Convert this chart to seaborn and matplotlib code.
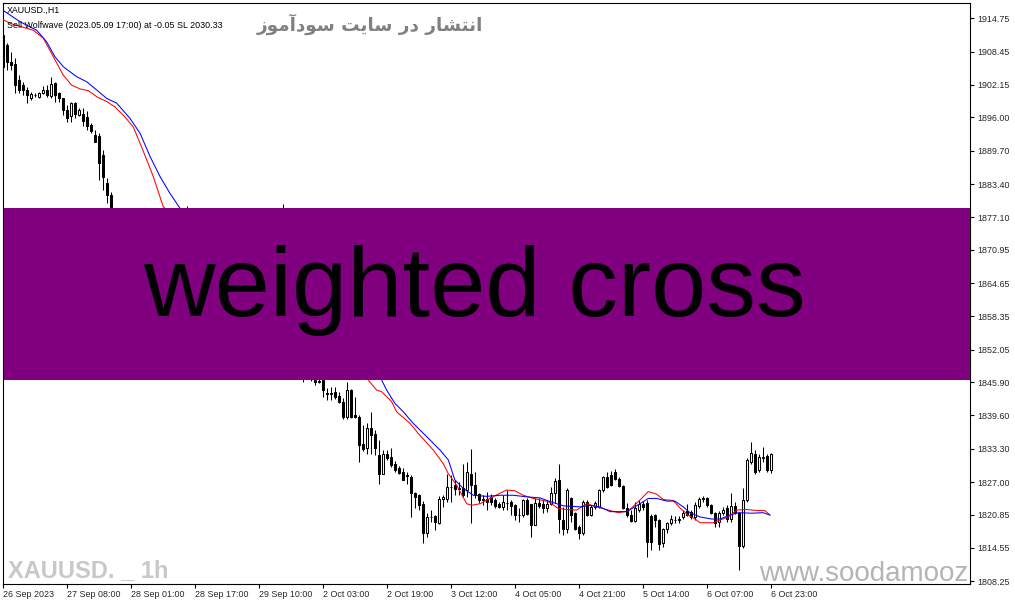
import matplotlib
matplotlib.use("Agg")
import matplotlib.pyplot as plt
from matplotlib.patches import Rectangle
import seaborn as sns
import pandas as pd

# XAUUSD H1 bars, 26 Sep 2023 .. 6 Oct 2023 23:00 (bar index = position)
opens = [1911.6, 1909.8, 1906.5, 1906.2, 1903.1, 1902.1, 1901.2, 1899.7, 1900.2, 1899.9,
         1900.6, 1901.2, 1900.0, 1902.6, 1900.6, 1899.6, 1897.4, 1896.2, 1898.7, 1896.4,
         1896.6, 1896.0, 1894.5, 1892.7, 1892.5, 1888.9, 1883.5, 1881.3, 1876, 1874,
         1871, 1868, 1869, 1867, 1864, 1865, 1866, 1862, 1863, 1866,
         1869, 1867, 1871, 1873, 1871, 1874, 1875, 1872, 1867, 1868,
         1864, 1866, 1865, 1866, 1865, 1863, 1865, 1864, 1862, 1864,
         1866, 1865, 1868, 1870, 1868, 1866, 1868, 1867, 1871, 1873,
         1876, 1866, 1858, 1852, 1849, 1850, 1847, 1848, 1846.3, 1846.0,
         1846.3, 1843.9, 1843.7, 1844.1, 1843.3, 1842.2, 1839.4, 1844.4, 1839.7, 1839.4,
         1834.2, 1833.4, 1837.2, 1836.1, 1832.1, 1828.6, 1832.4, 1831.7, 1830.5, 1829.6,
         1828.9, 1828.2, 1828.0, 1824.9, 1824.5, 1822.9, 1817.3, 1820.3, 1820.6, 1819.3,
         1823.7, 1823.7, 1826.0, 1826.4, 1825.7, 1825.8, 1825.5, 1828.6, 1826.4, 1824.7,
         1823.6, 1823.7, 1824.2, 1823.6, 1822.8, 1822.3, 1823.0, 1823.2, 1822.6, 1820.7,
         1820.75, 1823.6, 1822.9, 1818.9, 1823.1, 1822.9, 1822.0, 1822.9, 1824.9, 1827.4,
         1819.8, 1818.2, 1823.9, 1821.1, 1818.4, 1817.3, 1823.3, 1820.75, 1822.3, 1822.3,
         1825.4, 1828.0, 1828.4, 1828.9, 1827.5, 1826.2, 1822.0, 1820.75, 1819.7, 1821.7,
         1822.9, 1823.0, 1820.6, 1820.75, 1819.8, 1815.4, 1818.05, 1819.2, 1819.9, 1819.9,
         1820.3, 1821.6, 1821.4, 1820.4, 1822.5, 1823.8, 1823.9, 1822.6, 1821.2, 1819.5,
         1821.1, 1822.0, 1820.1, 1822.5, 1821.2, 1814.9, 1823.6, 1830.8, 1832.4, 1829.3,
         1831.6, 1832.0, 1829.3]
highs = [1912.5, 1910.0, 1908.4, 1907.2, 1904.0, 1902.8, 1901.8, 1900.9, 1900.7, 1900.9,
         1902.0, 1902.2, 1903.7, 1902.8, 1900.8, 1899.7, 1898.3, 1899.0, 1899.0, 1897.8,
         1897.8, 1897.3, 1894.9, 1893.6, 1893.0, 1889.8, 1884.5, 1881.8, 1878, 1876,
         1873, 1871, 1872, 1869, 1867, 1868, 1867, 1865, 1867, 1870,
         1871, 1872, 1874, 1876, 1875, 1877, 1879.2, 1874, 1870, 1870,
         1867, 1868, 1867, 1868, 1866, 1866, 1867, 1866, 1865, 1867,
         1868, 1869, 1871, 1872, 1870, 1869, 1870, 1872, 1875, 1877,
         1879.6, 1868, 1860, 1854, 1852, 1851, 1850, 1849, 1848.0, 1847.5,
         1848.0, 1844.8, 1844.9, 1845.0, 1844.1, 1842.9, 1846.0, 1844.6, 1843.1, 1839.6,
         1837.8, 1838.1, 1840.3, 1836.8, 1834.9, 1833.05, 1833.0, 1833.4, 1831.0, 1830.0,
         1829.6, 1828.9, 1828.3, 1825.2, 1824.8, 1823.5, 1821.1, 1821.7, 1820.8, 1824.3,
         1824.5, 1828.6, 1828.3, 1827.4, 1827.1, 1830.5, 1830.8, 1833.2, 1828.9, 1825.0,
         1824.5, 1825.2, 1824.7, 1823.9, 1823.3, 1824.5, 1825.5, 1823.6, 1822.9, 1822.0,
         1823.7, 1823.9, 1822.9, 1823.9, 1823.9, 1823.6, 1823.6, 1826.1, 1827.7, 1830.5,
         1822.3, 1825.9, 1824.2, 1821.3, 1818.9, 1823.6, 1823.6, 1822.6, 1823.4, 1825.6,
         1828.1, 1828.9, 1829.0, 1829.4, 1827.9, 1826.4, 1823.1, 1821.7, 1823.3, 1823.6,
         1823.5, 1823.6, 1821.0, 1821.0, 1820.0, 1818.3, 1819.5, 1820.7, 1820.5, 1820.6,
         1821.8, 1822.9, 1821.8, 1823.3, 1824.1, 1824.3, 1824.1, 1822.8, 1821.4, 1821.6,
         1822.3, 1822.6, 1824.9, 1823.2, 1821.4, 1825.8, 1831.6, 1834.6, 1833.0, 1832.3,
         1833.7, 1832.4, 1832.5]
lows = [1904.5, 1905.0, 1905.0, 1900.6, 1900.6, 1900.2, 1898.7, 1899.3, 1899.8, 1899.7,
        1900.4, 1899.9, 1899.6, 1899.0, 1899.0, 1896.4, 1895.2, 1895.2, 1895.8, 1896.2,
        1894.3, 1893.7, 1893.0, 1891.3, 1884.2, 1882.3, 1879.8, 1874.0, 1872, 1870,
        1866, 1865, 1866, 1862, 1861, 1863, 1860, 1859, 1862, 1865,
        1866, 1866, 1869, 1870, 1868, 1872, 1871, 1866, 1864, 1863,
        1862, 1864, 1863, 1864, 1862, 1862, 1863, 1861, 1860, 1863,
        1864, 1864, 1866, 1867, 1865, 1864, 1866, 1866, 1869, 1870,
        1864, 1856, 1850, 1847, 1846.5, 1846.0, 1846.5, 1846.2, 1845.4, 1845.7,
        1843.1, 1842.5, 1842.5, 1842.8, 1841.9, 1839.0, 1839.0, 1839.2, 1839.2, 1830.8,
        1832.8, 1832.4, 1832.4, 1832.1, 1826.7, 1828.5, 1831.2, 1829.9, 1828.9, 1828.5,
        1827.4, 1826.7, 1820.4, 1822.0, 1821.7, 1815.4, 1816.6, 1819.5, 1817.9, 1819.0,
        1822.3, 1823.3, 1823.3, 1824.5, 1824.5, 1824.2, 1824.2, 1819.2, 1823.9, 1823.0,
        1822.6, 1821.7, 1822.6, 1822.0, 1822.0, 1821.7, 1821.7, 1820.75, 1819.8, 1819.5,
        1820.4, 1820.75, 1816.6, 1818.9, 1822.0, 1821.1, 1821.4, 1822.6, 1823.0, 1817.3,
        1817.0, 1817.3, 1819.5, 1818.0, 1816.3, 1817.0, 1820.5, 1820.5, 1821.9, 1822.0,
        1825.2, 1825.8, 1826.2, 1827.3, 1826.0, 1821.9, 1820.4, 1819.5, 1819.5, 1821.4,
        1821.8, 1812.8, 1814.1, 1818.5, 1814.1, 1814.75, 1817.3, 1818.9, 1819.3, 1819.3,
        1820.1, 1820.5, 1820.0, 1819.8, 1822.0, 1823.3, 1822.2, 1820.9, 1818.4, 1818.4,
        1820.8, 1819.5, 1819.5, 1821.0, 1810.35, 1814.6, 1823.2, 1830.5, 1828.5, 1828.9,
        1830.8, 1828.9, 1828.8]
closes = [1905.5, 1906.5, 1906.0, 1902.1, 1901.2, 1901.2, 1900.2, 1900.4, 1900.3, 1900.6,
          1901.2, 1900.3, 1902.3, 1900.2, 1899.6, 1897.4, 1895.8, 1898.7, 1896.6, 1897.4,
          1895.4, 1894.3, 1893.4, 1891.4, 1887.3, 1884.8, 1881.3, 1876.0, 1874, 1871,
          1868, 1869, 1867, 1864, 1865, 1866, 1862, 1863, 1866, 1869,
          1867, 1871, 1873, 1871, 1874, 1875, 1872, 1867, 1868, 1864,
          1866, 1865, 1866, 1865, 1863, 1865, 1864, 1862, 1864, 1866,
          1865, 1868, 1870, 1868, 1866, 1868, 1867, 1871, 1873, 1876,
          1866, 1858, 1852, 1849, 1850, 1846.8, 1848, 1847, 1846.0, 1846.2,
          1844.4, 1843.7, 1843.9, 1843.1, 1842.2, 1839.4, 1844.4, 1839.4, 1839.4, 1834.0,
          1833.2, 1837.2, 1835.9, 1833.4, 1828.6, 1832.4, 1831.5, 1830.2, 1829.3, 1828.7,
          1827.4, 1828.3, 1824.9, 1824.2, 1822.6, 1817.3, 1820.4, 1820.4, 1819.5, 1823.7,
          1824.1, 1826.0, 1826.1, 1825.6, 1825.8, 1824.5, 1828.9, 1826.4, 1824.5, 1823.6,
          1823.7, 1823.3, 1823.3, 1822.5, 1822.3, 1823.3, 1823.1, 1822.5, 1820.7, 1820.8,
          1823.6, 1820.9, 1818.9, 1823.1, 1822.5, 1822.0, 1822.9, 1824.9, 1827.2, 1820.1,
          1818.2, 1825.5, 1820.75, 1818.2, 1817.4, 1823.3, 1820.75, 1822.3, 1823.0, 1825.5,
          1828.0, 1826.0, 1826.4, 1827.5, 1826.2, 1822.0, 1820.75, 1819.7, 1822.0, 1822.9,
          1822.2, 1815.7, 1815.7, 1819.8, 1815.3, 1818.05, 1819.2, 1820.1, 1819.8, 1820.0,
          1821.2, 1820.75, 1820.3, 1822.6, 1823.7, 1823.9, 1822.6, 1821.1, 1819.3, 1821.2,
          1821.8, 1820.1, 1822.5, 1821.2, 1814.9, 1823.6, 1831.2, 1832.5, 1828.9, 1831.8,
          1831.8, 1829.2, 1832.3]

# moving averages (bar position, price)
red_bar = [-0.8, 1.7, 7.5, 10.0, 12.5, 15.0, 17.1, 19.2, 21.3, 23.4, 25.9, 27.9, 30.4, 32.5,
           34.2, 35.9, 37.5, 40.0, 91.25, 93.35, 94.6, 97.1, 98.35, 101.7, 103.75, 107.5,
           110.0, 111.25, 113.35, 115.85, 117.1, 119.2, 121.7, 124.2, 125.85, 127.9, 130.0,
           132.5, 136.25, 138.75, 140.85, 143.35, 145.85, 148.35, 151.25, 153.75, 156.25,
           159.2, 161.25, 163.35, 165.0, 167.5, 169.2, 171.25, 173.35, 174.2, 177.5, 179.2,
           181.25, 183.35, 185.85, 188.75, 190.4, 191.7]
red_val = [1914.8, 1913.8, 1912.5, 1911.0, 1907.5, 1904.0, 1902.1, 1901.4, 1901.05, 1899.9,
           1899.0, 1898.0, 1896.1, 1894.2, 1891.1, 1887.9, 1884.8, 1879.1, 1846.3, 1844.4,
           1844.1, 1842.2, 1840.3, 1838.1, 1836.2, 1833.05, 1830.5, 1828.6, 1826.4, 1822.9,
           1822.6, 1822.9, 1823.9, 1824.9, 1825.5, 1825.35, 1824.5, 1823.9, 1823.3, 1822.0,
           1821.8, 1821.7, 1822.9, 1822.3, 1821.7, 1821.2, 1821.5, 1823.6, 1825.2, 1824.7,
           1823.7, 1823.5, 1822.1, 1820.75, 1819.8, 1819.3, 1819.3, 1819.8, 1820.4, 1821.7,
           1821.8, 1821.6, 1821.6, 1820.75]
blue_bar = [-0.1, 4.2, 8.35, 10.85, 12.9, 15.0, 18.35, 20.85, 23.35, 25.85, 28.35, 31.7, 34.2,
            36.7, 39.2, 41.7, 44.2, 94.6, 95.85, 97.9, 100.0, 102.5, 105.85, 109.2, 111.25,
            112.9, 115.0, 117.5, 120.85, 124.2, 127.5, 130.85, 134.2, 136.7, 140.0, 144.2,
            146.7, 149.2, 151.7, 155.85, 159.2, 161.25, 163.35, 165.85, 167.9, 170.0, 171.7,
            174.2, 177.1, 179.2, 181.7, 183.75, 187.1, 190.0, 191.7]
blue_val = [1916.3, 1914.1, 1912.5, 1910.3, 1907.5, 1905.6, 1903.7, 1902.75, 1901.2, 1899.6,
            1898.7, 1895.8, 1893.0, 1888.6, 1884.8, 1881.6, 1878.8, 1846.3, 1844.4, 1841.9,
            1840.3, 1838.1, 1835.6, 1833.05, 1831.2, 1827.4, 1825.8, 1824.5, 1824.3, 1824.5,
            1824.5, 1824.2, 1824.0, 1823.3, 1822.5, 1822.3, 1822.6, 1822.3, 1821.4, 1821.4,
            1822.9, 1823.9, 1823.9, 1823.4, 1823.4, 1822.3, 1821.2, 1820.4, 1820.0, 1820.0,
            1820.75, 1821.2, 1821.1, 1821.2, 1820.75]

price_ticks = [1914.75, 1908.45, 1902.15, 1896.00, 1889.70, 1883.40, 1877.10, 1870.95, 1864.65,
               1858.35, 1852.05, 1845.90, 1839.60, 1833.30, 1827.00, 1820.85, 1814.55, 1808.25]
time_labels = ["26 Sep 2023", "27 Sep 08:00", "28 Sep 01:00", "28 Sep 17:00", "29 Sep 10:00",
               "2 Oct 03:00", "2 Oct 19:00", "3 Oct 12:00", "4 Oct 05:00", "4 Oct 21:00",
               "5 Oct 14:00", "6 Oct 07:00", "6 Oct 23:00"]

title_fa = "انتشار در سایت سودآموز"
# matplotlib does no Arabic shaping: contextual forms, then visual order
title_fa_forms = ("\uFE8D\uFEE7\uFE98\uFEB8\uFE8E\uFEAD \uFEA9\uFEAD "
                  "\uFEB3\uFE8E\uFBFE\uFE96 \uFEB3\uFEEE\uFEA9\uFE81\uFEE3\uFEEE\uFEAF")

sns.set_style("white")
plt.rcParams["font.family"] = ["Liberation Sans", "DejaVu Sans"]

df = pd.DataFrame({"open": opens, "high": highs, "low": lows, "close": closes})
df["bar"] = range(len(df))
up = df[df.close >= df.open]
dn = df[df.close < df.open]

W, H = 1015, 605
fig = plt.figure(figsize=(W / 100, H / 100), dpi=100)
ax = fig.add_axes([2.5 / W, 1 - 583.5 / H, 967.5 / W, 580.2 / H])

ax.vlines(df.bar, df.low, df.high, color="black", lw=0.75, zorder=2)
ax.bar(up.bar, (up.close - up.open).clip(lower=0.02), bottom=up.open, width=0.55,
       color="white", edgecolor="black", lw=0.75, zorder=3)
ax.bar(dn.bar, dn.open - dn.close, bottom=dn.close, width=0.55,
       color="black", edgecolor="black", lw=0.75, zorder=3)

sns.lineplot(x=red_bar, y=red_val, sort=False, estimator=None, color="#ff0000", lw=0.75, ax=ax, zorder=4)
sns.lineplot(x=blue_bar, y=blue_val, sort=False, estimator=None, color="#0000ff", lw=0.75, ax=ax, zorder=4)

ax.set_xlim(-0.2, 241.7)
ax.set_ylim(1807.8, 1917.6)
ax.yaxis.tick_right()
ax.set_yticks(price_ticks)
ax.set_yticklabels([f"{v:.2f}" for v in price_ticks])
ax.set_xticks(range(0, 16 * len(time_labels), 16))
ax.set_xticklabels(time_labels, ha="left")
ax.tick_params(axis="both", labelsize=6.4, length=3, width=0.8, color="black",
               direction="out", pad=2, bottom=True, right=True, left=False)
for s in ax.spines.values():
    s.set_color("black")
    s.set_linewidth(0.8)
ax.set_xlabel("")
ax.set_ylabel("")

# purple banner over the chart
banner = Rectangle((4 / W, 1 - 380 / H), 966 / W, 172 / H, transform=fig.transFigure,
                   facecolor="#800080", edgecolor="none", zorder=10)
fig.patches.append(banner)
fig.text(475 / W, 1 - 316 / H, "weighted cross", ha="center", va="baseline",
         fontsize=71.5, color="black", zorder=11)

fig.text(7 / W, 1 - 13 / H, "XAUUSD.,H1", fontsize=6.4, color="black")
fig.text(7 / W, 1 - 28 / H, "Sell Wolfwave (2023.05.09 17:00) at -0.05 SL 2030.33",
         fontsize=6.4, color="black")
fig.text(370 / W, 1 - 24 / H, title_fa_forms[::-1], ha="center", va="center",
         fontsize=13.2, fontweight="bold", color="#808080", family=["DejaVu Sans"])
fig.text(8 / W, 1 - 577 / H, "XAUUSD. _ 1h", fontsize=17, fontweight="bold",
         color="#c8c8c8")
fig.text(968 / W, 1 - 581 / H, "www.soodamooz", ha="right", fontsize=20, color="#b4b4b4")

fig.savefig("out.png", dpi=100)
